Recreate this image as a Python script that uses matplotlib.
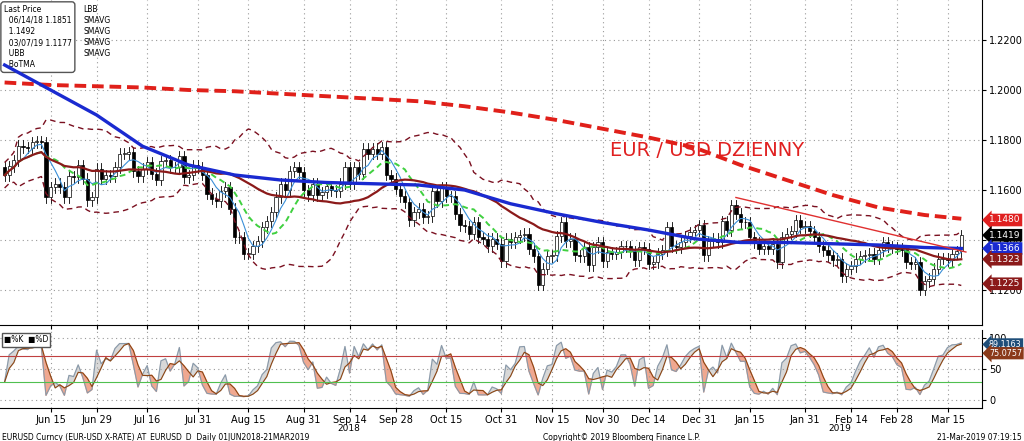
import numpy as np
import pandas as pd
import matplotlib.pyplot as plt
from matplotlib.patches import Rectangle

# daily closes, 01 Jun 2018 - 21 Mar 2019 (business days)
close_jun = [1.1659, 1.1695, 1.1718, 1.1777, 1.1770, 1.1768, 1.1790, 1.1795, 1.1790, 1.1570, 1.1610,
             1.1625, 1.1610, 1.1570, 1.1655, 1.1650, 1.1700, 1.1645, 1.1560, 1.1570, 1.1685]
close_jul = [1.1645, 1.1660, 1.1655, 1.1690, 1.1745, 1.1745, 1.1750, 1.1675, 1.1655, 1.1685, 1.1710,
             1.1665, 1.1640, 1.1715, 1.1720, 1.1690, 1.1690, 1.1735, 1.1650, 1.1660, 1.1700, 1.1690]
close_aug = [1.1660, 1.1585, 1.1565, 1.1555, 1.1595, 1.1610, 1.1525, 1.1410, 1.1410, 1.1345, 1.1345,
             1.1375, 1.1395, 1.1450, 1.1475, 1.1510, 1.1570, 1.1625, 1.1600, 1.1675, 1.1690, 1.1670, 1.1600]
close_sep = [1.1580, 1.1625, 1.1580, 1.1590, 1.1615, 1.1600, 1.1595, 1.1625, 1.1690, 1.1625, 1.1690,
             1.1665, 1.1765, 1.1745, 1.1765, 1.1745, 1.1770, 1.1660, 1.1645, 1.1605]
close_oct = [1.1575, 1.1550, 1.1480, 1.1510, 1.1525, 1.1490, 1.1495, 1.1595, 1.1555, 1.1610, 1.1575,
             1.1575, 1.1505, 1.1460, 1.1455, 1.1425, 1.1470, 1.1410, 1.1405, 1.1375, 1.1405, 1.1385, 1.1315]
close_nov = [1.1405, 1.1390, 1.1410, 1.1420, 1.1425, 1.1365, 1.1335, 1.1220, 1.1285, 1.1335, 1.1340,
             1.1415, 1.1470, 1.1395, 1.1405, 1.1340, 1.1335, 1.1370, 1.1300, 1.1370, 1.1390, 1.1315]
close_dec = [1.1350, 1.1345, 1.1350, 1.1375, 1.1375, 1.1355, 1.1320, 1.1370, 1.1365, 1.1305, 1.1310,
             1.1345, 1.1360, 1.1450, 1.1375, 1.1370, 1.1390, 1.1415, 1.1430, 1.1440, 1.1460]
close_jan = [1.1340, 1.1395, 1.1405, 1.1390, 1.1475, 1.1440, 1.1540, 1.1505, 1.1470, 1.1470, 1.1410,
             1.1390, 1.1365, 1.1375, 1.1365, 1.1385, 1.1310, 1.1410, 1.1425, 1.1435, 1.1480, 1.1450]
close_feb = [1.1455, 1.1435, 1.1410, 1.1375, 1.1360, 1.1340, 1.1320, 1.1325, 1.1255, 1.1285, 1.1295,
             1.1325, 1.1335, 1.1340, 1.1345, 1.1325, 1.1360, 1.1390, 1.1375, 1.1370]
close_mar = [1.1365, 1.1360, 1.1310, 1.1305, 1.1310, 1.1200, 1.1235, 1.1245, 1.1285, 1.1325, 1.1325,
             1.1320, 1.1345, 1.1355, 1.1419]

# long averages every 10 sessions (plus last session)
ma_idx = [0, 10, 20, 30, 40, 50, 60, 70, 80, 90, 100, 110, 120, 130, 140, 150, 160, 170, 180, 190, 200, 208]
sma200 = [1.2030, 1.2020, 1.2015, 1.2010, 1.2000, 1.1995, 1.1985, 1.1975, 1.1965, 1.1955, 1.1935, 1.1910,
          1.1880, 1.1845, 1.1810, 1.1770, 1.1700, 1.1640, 1.1580, 1.1530, 1.1500, 1.1485]
sma50 = [1.2100, 1.2000, 1.1900, 1.1775, 1.1700, 1.1660, 1.1640, 1.1630, 1.1625, 1.1620, 1.1600, 1.1545,
         1.1505, 1.1470, 1.1440, 1.1405, 1.1390, 1.1390, 1.1385, 1.1380, 1.1370, 1.1366]

trend_dates = ["2019-01-10", "2019-03-21"]
trend_vals = [1.1570, 1.1352]

tick_dates = ["2018-06-15", "2018-06-29", "2018-07-16", "2018-07-31", "2018-08-15", "2018-08-31",
              "2018-09-14", "2018-09-28", "2018-10-15", "2018-10-31", "2018-11-15", "2018-11-30",
              "2018-12-14", "2018-12-31", "2019-01-15", "2019-01-31", "2019-02-14", "2019-02-28",
              "2019-03-15"]
tick_labels = ["Jun 15", "Jun 29", "Jul 16", "Jul 31", "Aug 15", "Aug 31", "Sep 14", "Sep 28", "Oct 15",
               "Oct 31", "Nov 15", "Nov 30", "Dec 14", "Dec 31", "Jan 15", "Jan 31", "Feb 14", "Feb 28",
               "Mar 15"]

closes = np.array(close_jun + close_jul + close_aug + close_sep + close_oct + close_nov +
                  close_dec + close_jan + close_feb + close_mar)
n = len(closes)
dates = pd.bdate_range("2018-06-01", periods=n)
x = np.arange(n)
opens = np.concatenate([[1.1690], closes[:-1]])
highs = np.maximum(opens, closes) + 0.0022
lows = np.minimum(opens, closes) - 0.0022

s = pd.Series(closes)
sma30 = s.rolling(30, min_periods=1).mean()
sma10 = s.rolling(10, min_periods=1).mean()
sma5 = s.rolling(5, min_periods=1).mean()
mid = s.rolling(20, min_periods=1).mean()
sd = s.rolling(20, min_periods=2).std().bfill()
ub, lb = mid + 2 * sd, mid - 2 * sd
hh = pd.Series(highs).rolling(9, min_periods=1).max()
ll = pd.Series(lows).rolling(9, min_periods=1).min()
k = (s - ll) / (hh - ll) * 100
d = k.rolling(3, min_periods=1).mean()

fig = plt.figure(figsize=(10.24, 4.41), dpi=100)
R = 982 / 1024
ax = fig.add_axes([0.0, 1 - 325 / 441, R, 325 / 441])
ax2 = fig.add_axes([0.0, 1 - 408 / 441, R, 78 / 441], sharex=ax)

tick_pos = dates.searchsorted(pd.to_datetime(tick_dates))
for a in (ax, ax2):
    a.set_xticks(tick_pos)
    a.grid(True, color="#999999", linestyle=(0, (1, 3)), linewidth=0.8)
    a.yaxis.tick_right()
    a.tick_params(labelsize=7, length=3, pad=2)
    for sp in ("top", "left"):
        a.spines[sp].set_visible(False)
ax.tick_params(axis="x", labelbottom=False)
ax2.set_xticklabels(tick_labels)
ax2.tick_params(axis="x", labelsize=7)

# candles
for i in x:
    o, c = opens[i], closes[i]
    ax.plot([i, i], [lows[i], highs[i]], color="black", lw=0.6, zorder=2)
    ax.add_patch(Rectangle((i - 0.35, min(o, c)), 0.7, max(abs(c - o), 0.0002),
                           facecolor="white" if c >= o else "black", edgecolor="black", lw=0.5, zorder=3))

ax.plot(x, ub, color="#7a1020", lw=1.0, ls=(0, (4, 3)), zorder=4)
ax.plot(x, lb, color="#7a1020", lw=1.0, ls=(0, (4, 3)), zorder=4)
ax.plot(ma_idx, sma200, color="#e0201a", lw=2.8, ls=(0, (3, 1.5)), zorder=5)
ax.plot(x, sma5, color="#3a8fd8", lw=0.8, zorder=4)
ax.plot(x, sma10, color="#40d040", lw=1.4, ls=(0, (3, 2)), zorder=4)
ax.plot(x, sma30, color="#8b1a1a", lw=1.6, zorder=5)
ax.plot(ma_idx, sma50, color="#1a2ad0", lw=2.4, zorder=6)
ax.plot(dates.searchsorted(pd.to_datetime(trend_dates)), trend_vals, color="#e03030", lw=1.0, zorder=6)

ax.set_xlim(-1, n + 3.5)
ax.set_ylim(1.106, 1.236)
ax.set_yticks(np.arange(1.12, 1.2201, 0.02))
ax.set_yticklabels([f"{v:.4f}" for v in np.arange(1.12, 1.2201, 0.02)])
ax.text(0.72, 0.52, "EUR / USD DZIENNY", transform=ax.transAxes, color="#e02020", fontsize=14, ha="center")

def tag(a, yv, txt, fc, tc="white", fs=6.5):
    a.annotate(txt, xy=(1.0, yv), xycoords=("axes fraction", "data"), xytext=(5, 0),
               textcoords="offset points", fontsize=fs, color=tc, va="center",
               bbox=dict(boxstyle="larrow,pad=0.2", fc=fc, ec="none"), annotation_clip=False)

tag(ax, 1.1480, "1.1480", "#e02020")
tag(ax, 1.1419, "1.1419", "black")
tag(ax, 1.1366, "1.1366", "#1a2ad0")
tag(ax, 1.1323, "1.1323", "#8b1a1a")
tag(ax, 1.1225, "1.1225", "#8b1a1a")

# legend box
ax.text(0.004, 0.985, "Last Price\n  06/14/18 1.1851\n  1.1492\n  03/07/19 1.1177\n  UBB\n  BoTMA",
        transform=ax.transAxes, fontsize=5.5, va="top", linespacing=1.3,
        bbox=dict(boxstyle="round,pad=0.4", fc="white", ec="#555555"))
ax.text(0.085, 0.985, "LBB\nSMAVG\nSMAVG\nSMAVG\nSMAVG", transform=ax.transAxes, fontsize=5.5,
        va="top", linespacing=1.3)

# stochastic
ax2.plot(x, k, color="#8899aa", lw=0.8)
ax2.plot(x, d, color="#8b4513", lw=0.8)
ax2.fill_between(x, k, d, where=k >= d, color="#d8d8d8", interpolate=True)
ax2.fill_between(x, k, d, where=k < d, color="#f0a890", interpolate=True)
ax2.axhline(70, color="#c04040", lw=0.8)
ax2.axhline(30, color="#50c050", lw=0.8)
ax2.set_ylim(-12, 112)
ax2.set_yticks([0, 50, 100])
ax2.text(0.004, 0.93, "■%K  ■%D", transform=ax2.transAxes, fontsize=5.5, va="top",
         bbox=dict(fc="white", ec="#555555", pad=1.5))
tag(ax2, 89.1163, "89.1163", "#1f4e79", fs=5.8)
tag(ax2, 75.0757, "75.0757", "#8b3a1a", fs=5.8)
ax2.text(0.355, -0.2, "2018", transform=ax2.transAxes, fontsize=6.5, ha="center", va="top")
ax2.text(0.855, -0.2, "2019", transform=ax2.transAxes, fontsize=6.5, ha="center", va="top")

fig.text(0.002, 0.003, "EURUSD Curncy (EUR-USD X-RATE) AT_EURUSD_D  Daily 01JUN2018-21MAR2019", fontsize=5.5)
fig.text(0.53, 0.003, "Copyright© 2019 Bloomberg Finance L.P.", fontsize=5.5)
fig.text(0.998, 0.003, "21-Mar-2019 07:19:15", fontsize=5.5, ha="right")

fig.savefig("out.png", dpi=100)
